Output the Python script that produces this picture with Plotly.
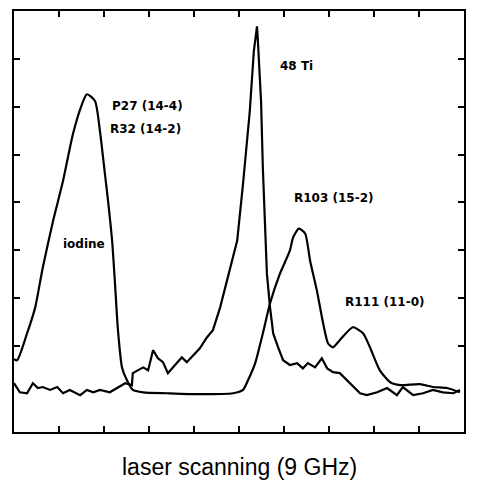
import plotly.graph_objects as go

# Iodine absorption spectrum (scan position, intensity, arbitrary units)
iodine_x = [0.00, 0.07, 0.29, 0.47, 0.64, 0.87, 1.09, 1.31, 1.51, 1.62, 1.80, 1.91, 2.02,
            2.09, 2.18, 2.24, 2.31, 2.40, 2.51, 2.64, 2.87, 3.40, 4.13, 4.87, 5.09, 5.20,
            5.36, 5.53, 5.69, 5.91, 6.13, 6.20, 6.33, 6.47, 6.58, 6.73, 6.87, 6.98, 7.09,
            7.24, 7.53, 7.76, 7.91, 8.13, 8.36, 8.58, 9.02, 9.31, 9.62, 9.91]
iodine_y = [0.72, 0.70, 1.26, 1.80, 2.64, 3.62, 4.45, 5.43, 6.05, 6.26, 6.12, 5.49, 4.60,
            4.03, 3.20, 2.37, 1.33, 0.55, 0.28, 0.08, 0.03, 0.01, -0.01, 0.01, 0.08, 0.28,
            0.64, 1.26, 1.89, 2.51, 2.99, 3.26, 3.45, 3.35, 2.78, 2.16, 1.47, 1.05, 0.97,
            1.12, 1.39, 1.26, 0.97, 0.49, 0.24, 0.18, 0.20, 0.14, 0.12, 0.03]

# 48 Ti signal
ti_x = [0.00, 0.13, 0.29, 0.42, 0.53, 0.64, 0.80, 0.96, 1.09, 1.24, 1.47, 1.62, 1.76,
        1.91, 2.13, 2.31, 2.47, 2.62, 2.64, 2.87, 2.98, 3.09, 3.20, 3.31, 3.42, 3.53,
        3.73, 3.84, 3.98, 4.13, 4.29, 4.42, 4.58, 4.80, 4.96, 5.09, 5.24, 5.33, 5.40,
        5.42, 5.49, 5.53, 5.58, 5.62, 5.69, 5.76, 5.87, 5.98, 6.13, 6.29, 6.42, 6.53,
        6.69, 6.84, 6.96, 7.09, 7.24, 7.40, 7.53, 7.69, 7.84, 8.07, 8.29, 8.51, 8.64,
        8.87, 9.09, 9.31, 9.53, 9.76, 9.91]
ti_y = [0.22, 0.03, 0.01, 0.22, 0.12, 0.14, 0.08, 0.14, 0.01, 0.08, -0.03, 0.08, 0.03,
        0.08, 0.03, 0.14, 0.22, 0.18, 0.43, 0.55, 0.49, 0.91, 0.74, 0.66, 0.43, 0.55,
        0.76, 0.66, 0.80, 0.95, 1.18, 1.33, 1.80, 2.64, 3.20, 4.39, 5.91, 7.16, 7.68,
        7.37, 6.12, 4.72, 3.41, 2.51, 1.80, 1.26, 0.97, 0.70, 0.60, 0.64, 0.53, 0.64,
        0.55, 0.74, 0.53, 0.45, 0.43, 0.28, 0.14, 0.01, -0.03, 0.03, 0.12, -0.03, 0.14,
        -0.03, 0.01, 0.08, 0.03, 0.01, 0.08]

label_text = ["48 Ti", "P27 (14-4)", "R32 (14-2)", "iodine", "R103 (15-2)", "R111 (11-0)"]
label_x = [6.27, 2.96, 2.93, 1.56, 7.09, 8.24]
label_y = [6.85, 6.01, 5.53, 3.12, 4.10, 1.91]

x_ticks = [1, 2, 3, 4, 5, 6, 7, 8, 9]
y_ticks = [1, 2, 3, 4, 5, 6, 7]

fig = go.Figure()
fig.add_trace(go.Scatter(x=iodine_x, y=iodine_y, mode="lines",
                         line=dict(color="black", width=2.2, shape="spline", smoothing=0.6),
                         showlegend=False, hoverinfo="skip"))
fig.add_trace(go.Scatter(x=ti_x, y=ti_y, mode="lines",
                         line=dict(color="black", width=2.2),
                         showlegend=False, hoverinfo="skip"))

for t, x, y in zip(label_text, label_x, label_y):
    fig.add_annotation(x=x, y=y, text=f"<b>{t}</b>", showarrow=False,
                       font=dict(family="DejaVu Sans", size=12, color="black"))

fig.add_annotation(xref="paper", yref="paper", x=0.5, y=-0.0827, yanchor="middle",
                   text="laser scanning (9 GHz)", showarrow=False,
                   font=dict(family="Liberation Sans", size=23, color="black"))

axis_common = dict(showgrid=False, zeroline=False, showline=True, linecolor="black",
                   linewidth=2, mirror="ticks", ticks="inside", ticklen=6,
                   tickwidth=2, tickcolor="black", showticklabels=False)

fig.update_xaxes(range=[0, 10], tickvals=x_ticks, **axis_common)
fig.update_yaxes(range=[-0.8, 8.0], tickvals=y_ticks, **axis_common)

fig.update_layout(width=469, height=472,
                  margin=dict(l=6, r=13, t=1, b=48),
                  paper_bgcolor="white", plot_bgcolor="white")

fig.write_html("out.html")
